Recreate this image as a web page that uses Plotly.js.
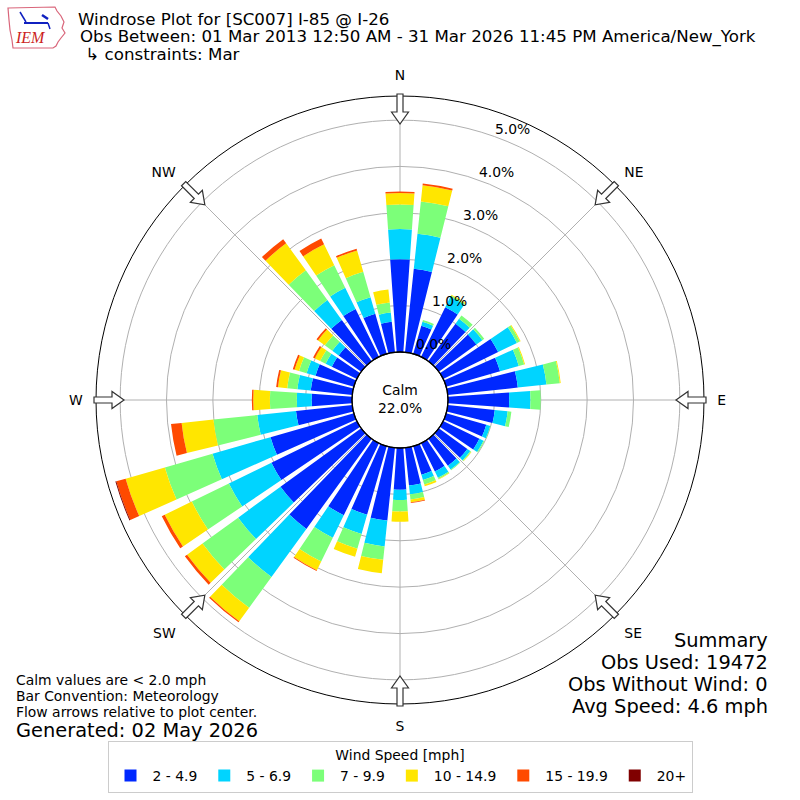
<!DOCTYPE html>
<html>
<head>
<meta charset="utf-8">
<script src="https://cdn.plot.ly/plotly-3.0.1.min.js"></script>
<style>html,body{margin:0;padding:0;background:#fff;}#chart{width:800px;height:800px;}</style>
</head>
<body>
<div id="chart"></div>
<script>
// ---- data (percent of observations) ----
const directions = [0,10,20,30,40,50,60,70,80,90,100,110,120,130,140,150,160,170,180,190,200,210,220,230,240,250,260,270,280,290,300,310,320,330,340,350];
const binLabels = ["2 - 4.9","5 - 6.9","7 - 9.9","10 - 14.9","15 - 19.9","20+"];
const binColors = ["#0028ff","#00d4ff","#7cff79","#ffe600","#ff4a00","#800000"];
const speed2to5 = [2.00,1.81,0.63,1.19,1.00,1.00,1.32,1.21,1.52,1.32,1.02,0.90,0.87,0.76,0.72,0.68,0.64,0.82,0.90,1.58,1.54,1.73,2.40,2.15,2.05,1.87,1.22,0.87,0.90,0.86,0.60,0.60,1.10,1.15,0.90,0.66];
const speed5to7 = [0.65,0.76,0.09,0.25,0.13,0.16,0.45,0.42,0.62,0.46,0.28,0.09,0.10,0.08,0.10,0.15,0.12,0.19,0.22,0.56,0.43,0.54,1.28,1.13,1.02,1.30,0.84,0.32,0.29,0.20,0.15,0.17,0.53,0.51,0.37,0.20];
const speed7to10 = [0.53,0.70,0.04,0.03,0.09,0.05,0.07,0.12,0.29,0.22,0.08,0.01,0.02,0.02,0.02,0.03,0.10,0.11,0.25,0.29,0.33,0.57,0.82,0.95,0.89,1.07,0.95,0.58,0.22,0.17,0.13,0.20,0.79,0.54,0.57,0.22];
const speed10to15 = [0.25,0.35,0.00,0.02,0.00,0.00,0.02,0.02,0.02,0.00,0.00,0.00,0.00,0.01,0.00,0.01,0.04,0.06,0.22,0.29,0.18,0.21,0.36,0.41,0.65,0.88,0.69,0.36,0.20,0.10,0.13,0.18,0.72,0.50,0.48,0.28];
const speed15to20 = [0.03,0.04,0.00,0.00,0.00,0.00,0.00,0.00,0.00,0.00,0.00,0.00,0.00,0.00,0.00,0.00,0.00,0.02,0.00,0.00,0.00,0.02,0.03,0.06,0.07,0.21,0.23,0.03,0.04,0.04,0.04,0.04,0.11,0.14,0.04,0.00];
const speed20plus = [0,0,0,0,0,0,0,0,0,0,0,0,0,0,0,0,0,0,0,0,0,0,0,0,0,0.02,0,0,0,0,0,0,0,0,0,0];
const calmPercent = 22.0;
const compassVals = [0,45,90,135,180,225,270,315];
const compassText = ["N","NE","E","SE","S","SW","W","NW"];
const radialTicks = [0,1,2,3,4,5];
const radialMax = 5.52;

const series = [speed2to5,speed5to7,speed7to10,speed10to15,speed15to20,speed20plus];
const FONT = "DejaVu Sans, sans-serif";
const F10 = 13.9, F12 = 16.67, F14 = 19.4;

const traces = series.map((vals,i)=>({
  type:"barpolar",
  r: vals,
  theta: directions,
  width: 8,
  name: binLabels[i],
  marker:{color: binColors[i], line:{width:0}},
  hoverinfo:"skip"
}));

// helpers (pixel -> paper)
const W = 800, H = 800, CX = 400, CY = 400, R = 304, HOLE = 48;
const px = x => x / W;
const py = y => 1 - y / H;

// flow arrows at the compass points (decoration)
function arrowPath(deg){
  const t = deg * Math.PI / 180;
  const ux = Math.sin(t), uy = -Math.cos(t);
  const vx = Math.cos(t), vy = Math.sin(t);
  const pts = [[306,-3],[288,-3],[288,-8.5],[276,0],[288,8.5],[288,3],[306,3]];
  let d = "";
  pts.forEach((p,k)=>{
    const x = CX + p[0]*ux + p[1]*vx;
    const y = CY + p[0]*uy + p[1]*vy;
    d += (k===0?"M":"L") + px(x).toFixed(5) + "," + py(y).toFixed(5);
  });
  return d + "Z";
}
const shapes = compassVals.map(a=>({
  type:"path", xref:"paper", yref:"paper", path: arrowPath(a),
  fillcolor:"#ffffff", line:{color:"#333333", width:1.2}, layer:"above"
}));
shapes.push({type:"circle", xref:"paper", yref:"paper",
  x0:px(CX-HOLE), x1:px(CX+HOLE), y0:py(CY+HOLE), y1:py(CY-HOLE),
  line:{color:"#000000", width:1.3}, fillcolor:"rgba(0,0,0,0)", layer:"above"});

// IEM logo (decoration)
function poly(list){
  return list.map((p,k)=>(k===0?"M":"L")+px(p[0]).toFixed(5)+","+py(p[1]).toFixed(5)).join("")+"Z";
}
shapes.push({type:"path", xref:"paper", yref:"paper",
  path: poly([[8,8],[55,7],[57,11],[61,16],[64,22],[62,28],[65,33],[61,38],[58,42],[56,46],[53,48],[13,48],[12,40],[10,30],[9,20]]),
  line:{color:"#d9657a", width:1.2}, fillcolor:"rgba(0,0,0,0)"});
shapes.push({type:"line", xref:"paper", yref:"paper", x0:px(24), y0:py(23), x1:px(48), y1:py(23), line:{color:"#1020c0", width:2}});
shapes.push({type:"line", xref:"paper", yref:"paper", x0:px(20), y0:py(12), x1:px(26), y1:py(22), line:{color:"#1020c0", width:1.5}});
shapes.push({type:"line", xref:"paper", yref:"paper", x0:px(42), y0:py(15), x1:px(48), y1:py(19), line:{color:"#1020c0", width:2.5}});
shapes.push({type:"line", xref:"paper", yref:"paper", x0:px(48), y0:py(23), x1:px(50), y1:py(29), line:{color:"#1020c0", width:1.5}});

const ann = (text,x,y,xa,ya,size,extra={}) => Object.assign({
  text, x:px(x), y:py(y), xref:"paper", yref:"paper", xanchor:xa, yanchor:ya,
  showarrow:false, font:{family:FONT, size, color:"#000"}
}, extra);

const annotations = [
  ann("Obs Between: 01 Mar 2013 12:50 AM - 31 Mar 2026 11:45 PM America/New_York", 78, 37, "left", "middle", F12),
  ann("\u00a0↳ constraints: Mar", 78, 55, "left", "middle", F12),
  ann("Calm<br>" + calmPercent.toFixed(1) + "%", 400, 399, "center", "middle", F10),
  ann("Calm values are < 2.0 mph", 14, 680, "left", "middle", F10),
  ann("Bar Convention: Meteorology", 14, 696, "left", "middle", F10),
  ann("Flow arrows relative to plot center.", 14, 712, "left", "middle", F10),
  ann("Generated: 02 May 2026", 14, 730, "left", "middle", F14),
  ann("Summary", 770, 640, "right", "middle", F14),
  ann("Obs Used: 19472", 770, 662, "right", "middle", F14),
  ann("Obs Without Wind: 0", 770, 684, "right", "middle", F14),
  ann("Avg Speed: 4.6 mph", 770, 706, "right", "middle", F14),
  ann("<i>IEM</i>", 30, 38, "center", "middle", 15, {font:{family:"Liberation Serif, serif", size:16, color:"#cc2222"}})
];

// radial tick labels, horizontal, along the 22.5 degree bearing
const labB = 22.5 * Math.PI / 180;
radialTicks.forEach(v=>{
  const rp = HOLE + v * (R - HOLE) / radialMax + 13;
  const x = CX + rp * Math.sin(labB) + 10 * (1 - v/5);
  const y = CY - rp * Math.cos(labB);
  annotations.push(ann(v.toFixed(1) + "%", x, y, "center", "middle", F10));
});

const layout = {
  width: W, height: H,
  margin:{l:0, r:0, t:0, b:0},
  paper_bgcolor:"#ffffff",
  font:{family:FONT, color:"#000"},
  title:{text:"Windrose Plot for [SC007] I-85 @ I-26", x:px(78), xanchor:"left", xref:"paper",
         y:py(19), yanchor:"middle", yref:"paper", font:{family:FONT, size:F12, color:"#000"}},
  showlegend:true,
  legend:{orientation:"h", x:0.5, xanchor:"center", y:py(741), yanchor:"top",
          bgcolor:"#ffffff", bordercolor:"#cccccc", borderwidth:1,
          font:{family:FONT, size:F10},
          title:{text:"Wind Speed [mph]", side:"top center", font:{family:FONT, size:F10}},
          traceorder:"normal", itemwidth:34},
  polar:{
    domain:{x:[0.12,0.88], y:[0.12,0.88]},
    hole: HOLE / R,
    bgcolor:"#ffffff",
    barmode:"stack",
    angularaxis:{rotation:90, direction:"clockwise", tickmode:"array", tickvals:compassVals, ticktext:compassText,
      showgrid:true, gridcolor:"#b0b0b0", gridwidth:1, showline:true, linecolor:"#000000", linewidth:1,
      ticks:"outside", ticklen:10, tickcolor:"rgba(0,0,0,0)", tickfont:{family:FONT, size:F10}, layer:"above traces"},
    radialaxis:{range:[0,radialMax], tickmode:"array", tickvals:radialTicks,
      angle:67.5, showline:false, ticks:"", showticklabels:false, showgrid:true, gridcolor:"#b0b0b0", gridwidth:1,
      layer:"above traces"}
  },
  shapes, annotations
};

Plotly.newPlot("chart", traces, layout, {staticPlot:true, displayModeBar:false});
</script>
</body>
</html>
